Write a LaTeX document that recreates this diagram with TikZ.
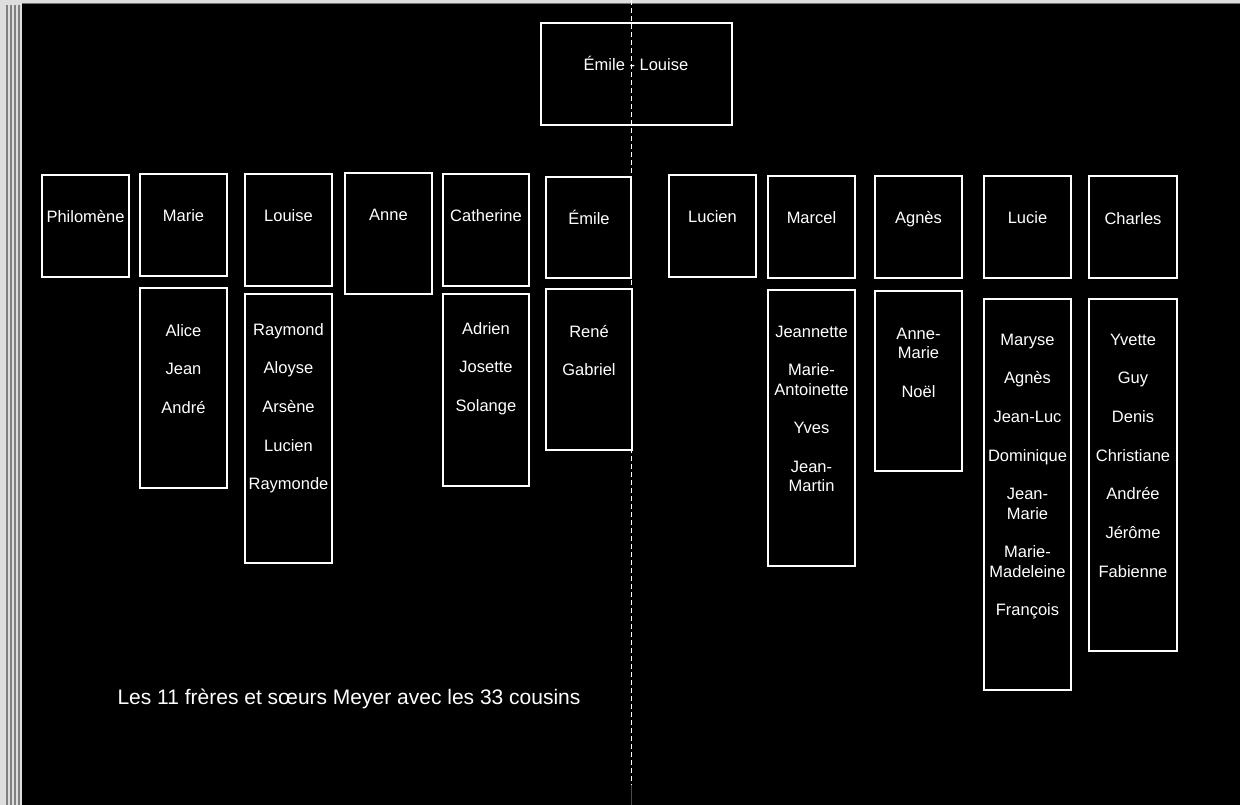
\documentclass[tikz,border=0pt]{standalone}
\usepackage{fontspec}
\setmainfont{Liberation Sans}
\begin{document}
\begin{tikzpicture}[x=1pt,y=-1pt,
  box/.style={draw=white, line width=2.6pt, inner sep=0pt, outer sep=0pt, anchor=north west},
  nm/.style={text=white, font=\fontsize{16.5}{19.35}\selectfont, inner sep=0pt, anchor=base},
  kids/.style={nm, text width=92pt, align=center},
  captext/.style={text=white, font=\fontsize{21}{24}\selectfont, inner sep=0pt, anchor=base}]
\useasboundingbox (0,0) rectangle (1240,805);
% background and window frame
\fill[black] (0,0) rectangle (1240,805);
\fill[black!13] (0,0) rectangle (1240,3);
\draw[black!55, line width=1pt] (0,3.5) -- (1240,3.5);
\fill[black!13] (0,0) rectangle (22,805);
\foreach \xx in {7,11,15,19} \draw[black!50, line width=1.3pt] (\xx,5) -- (\xx,805);
% parents
\node[box, minimum width=191pt, minimum height=102pt] (couple) at (541,23) {};
\node[nm] (tcouple) at (636,71) {Émile - Louise};
% siblings
\node[box, minimum width=87pt, minimum height=102pt] (philP) at (42,175) {};
\node[box, minimum width=87pt, minimum height=102pt] (marieP) at (140,174) {};
\node[box, minimum width=87pt, minimum height=200pt] (marieC) at (140,288) {};
\node[box, minimum width=87pt, minimum height=112pt] (louiseP) at (245,174) {};
\node[box, minimum width=87pt, minimum height=269pt] (louiseC) at (245,294) {};
\node[box, minimum width=87pt, minimum height=121pt] (anneP) at (345,173) {};
\node[box, minimum width=86pt, minimum height=112pt] (cathP) at (443,174) {};
\node[box, minimum width=86pt, minimum height=192pt] (cathC) at (443,294) {};
\node[box, minimum width=85pt, minimum height=101pt] (emileP) at (546,177) {};
\node[box, minimum width=86pt, minimum height=161pt] (emileC) at (546,289) {};
\node[box, minimum width=87pt, minimum height=102pt] (lucienP) at (669,175) {};
\node[box, minimum width=87pt, minimum height=102pt] (marcelP) at (768,176) {};
\node[box, minimum width=87pt, minimum height=276pt] (marcelC) at (768,290) {};
\node[box, minimum width=87pt, minimum height=102pt] (agnesP) at (875,176) {};
\node[box, minimum width=87pt, minimum height=180pt] (agnesC) at (875,291) {};
\node[box, minimum width=87pt, minimum height=102pt] (lucieP) at (984,176) {};
\node[box, minimum width=87pt, minimum height=391pt] (lucieC) at (984,299) {};
\node[box, minimum width=88pt, minimum height=102pt] (charlesP) at (1089,176) {};
\node[box, minimum width=88pt, minimum height=352pt] (charlesC) at (1089,299) {};
% sibling names
\node[nm] (tphil) at (85.5,222.5) {Philomène};
\node[nm] (tmarie) at (183.5,221.7) {Marie};
\node[nm] (tlouise) at (288.5,221.5) {Louise};
\node[nm] (tanne) at (388.5,220.5) {Anne};
\node[nm] (tcath) at (486,221.5) {Catherine};
\node[nm] (temile) at (589,224.5) {Émile};
\node[nm] (tlucien) at (712.5,222.5) {Lucien};
\node[nm] (tmarcel) at (811.5,223.5) {Marcel};
\node[nm] (tagnes) at (918.5,223.5) {Agnès};
\node[nm] (tlucie) at (1027.5,223.5) {Lucie};
\node[nm] (tcharles) at (1133,224.5) {Charles};
% cousins
\node[kids] (kmarie) at (183.5,336) {Alice\\[19.35pt]Jean\\[19.35pt]André};
\node[kids] (klouise) at (288.5,335) {Raymond\\[19.35pt]Aloyse\\[19.35pt]Arsène\\[19.35pt]Lucien\\[19.35pt]Raymonde};
\node[kids] (kcath) at (486,334) {Adrien\\[19.35pt]Josette\\[19.35pt]Solange};
\node[kids] (kemile) at (589,337) {René\\[19.35pt]Gabriel};
\node[kids] (kmarcel) at (811.5,337) {Jeannette\\[19.35pt]Marie-\\Antoinette\\[19.35pt]Yves\\[19.35pt]Jean-\\Martin};
\node[kids] (kagnes) at (918.5,339) {Anne-\\Marie\\[19.35pt]Noël};
\node[kids] (klucie) at (1027.5,345) {Maryse\\[19.35pt]Agnès\\[19.35pt]Jean-Luc\\[19.35pt]Dominique\\[19.35pt]Jean-\\Marie\\[19.35pt]Marie-\\Madeleine\\[19.35pt]François};
\node[kids] (kcharles) at (1133,345) {Yvette\\[19.35pt]Guy\\[19.35pt]Denis\\[19.35pt]Christiane\\[19.35pt]Andrée\\[19.35pt]Jérôme\\[19.35pt]Fabienne};
% caption
\node[captext] (caption) at (349,704.5) {Les 11 frères et sœurs Meyer avec les 33 cousins};
% page fold line
\coordinate (dtop) at (631,0);
\coordinate (dmid) at (631,785);
\coordinate (dbot) at (631,805);
\draw[white, line width=1pt, dash pattern=on 5pt off 3pt] (dtop) -- (dmid);
\draw[black!70, line width=1pt] (dmid) -- (dbot);
\end{tikzpicture}
\end{document}
